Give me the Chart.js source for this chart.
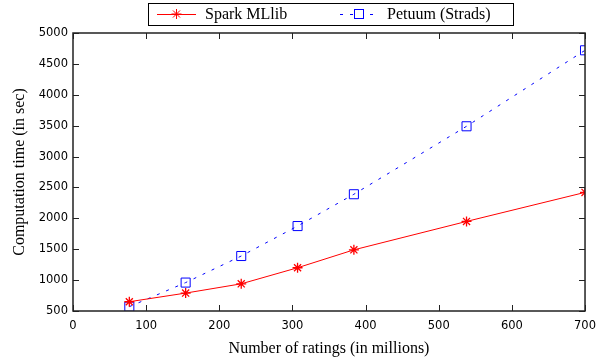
<!DOCTYPE html>
<html>
<head>
<meta charset="utf-8">
<script src="https://cdn.jsdelivr.net/npm/chart.js@4/dist/chart.umd.min.js"></script>
<style>
  html, body { margin: 0; padding: 0; background: #fff; }
  #wrap { width: 604px; height: 358px; }
</style>
</head>
<body>
<div id="wrap"><canvas id="chart" width="604" height="358"></canvas></div>
<script>
// values
const ratings = [77, 154, 230, 307, 384, 538, 700];       // millions of ratings
const sparkTime = [650, 790, 940, 1200, 1490, 1950, 2420]; // sec
const petuumTime = [570, 960, 1390, 1875, 2390, 3490, 4720];
const seriesNames = ['Spark MLlib', 'Petuum (Strads)'];

const serif = '"Liberation Serif", "Times New Roman", serif';
const sans = '"DejaVu Sans", Verdana, sans-serif';

function toPoints(ys) {
    return ratings.map((x, i) => ({ x: x, y: ys[i] }));
}

// draws the frame + inward ticks on all four sides
const frameTicks = {
    id: 'frameTicks',
    afterDatasetsDraw(chart) {
        const ctx = chart.ctx;
        const a = chart.chartArea;
        const xs = chart.scales.x, ys = chart.scales.y;
        const len = 6;
        ctx.save();
        ctx.strokeStyle = '#222';
        ctx.lineWidth = 1;
        ctx.beginPath();
        xs.ticks.forEach(t => {
            const px = Math.round(xs.getPixelForValue(t.value)) + 0.5;
            ctx.moveTo(px, a.bottom); ctx.lineTo(px, a.bottom - len);
            ctx.moveTo(px, a.top); ctx.lineTo(px, a.top + len);
        });
        ys.ticks.forEach(t => {
            const py = Math.round(ys.getPixelForValue(t.value)) + 0.5;
            ctx.moveTo(a.left, py); ctx.lineTo(a.left + len, py);
            ctx.moveTo(a.right, py); ctx.lineTo(a.right - len, py);
        });
        ctx.stroke();
        ctx.lineWidth = 1.5;
        ctx.strokeRect(a.left, a.top, a.right - a.left, a.bottom - a.top);
        ctx.restore();
    }
};

// gnuplot style boxed legend with line samples
const boxLegend = {
    id: 'boxLegend',
    afterDraw(chart) {
        const ctx = chart.ctx;
        const y = 14;
        const items = [
            { x0: 157, x1: 196, tx: 205 },
            { x0: 340, x1: 378, tx: 387 }
        ];
        ctx.save();
        ctx.strokeStyle = '#000';
        ctx.lineWidth = 1;
        ctx.strokeRect(148.5, 3.5, 365, 22);
        chart.data.datasets.forEach((ds, i) => {
            const it = items[i];
            const cx = (it.x0 + it.x1) / 2;
            ctx.strokeStyle = ds.borderColor;
            ctx.lineWidth = 1;
            ctx.setLineDash(ds.borderDash || []);
            ctx.beginPath();
            ctx.moveTo(it.x0, y + 0.5); ctx.lineTo(it.x1, y + 0.5);
            ctx.stroke();
            ctx.setLineDash([]);
            ctx.beginPath();
            if (ds.pointStyle === 'star') {
                const r = 5, d = r * Math.SQRT1_2;
                ctx.moveTo(cx - r, y); ctx.lineTo(cx + r, y);
                ctx.moveTo(cx, y - r); ctx.lineTo(cx, y + r);
                ctx.moveTo(cx - d, y - d); ctx.lineTo(cx + d, y + d);
                ctx.moveTo(cx - d, y + d); ctx.lineTo(cx + d, y - d);
                ctx.stroke();
            } else {
                ctx.fillStyle = '#fff';
                ctx.fillRect(cx - 4.5, y - 4.5, 9, 9);
                ctx.strokeRect(cx - 4.5, y - 4.5, 9, 9);
            }
            ctx.fillStyle = '#000';
            ctx.font = '16px ' + serif;
            ctx.textBaseline = 'middle';
            ctx.textAlign = 'left';
            ctx.fillText(ds.label, it.tx, y + 1);
        });
        ctx.restore();
    }
};

const ctx = document.getElementById('chart').getContext('2d');
const chart = new Chart(ctx, {
    type: 'line',
    data: {
        datasets: [{
            label: seriesNames[0],
            data: toPoints(sparkTime),
            borderColor: 'rgb(255, 0, 0)',
            backgroundColor: 'rgb(255, 0, 0)',
            borderWidth: 1,
            pointStyle: 'star',
            pointRadius: 5,
            pointBorderWidth: 1.3,
            tension: 0,
            fill: false
        }, {
            label: seriesNames[1],
            data: toPoints(petuumTime),
            borderColor: 'rgb(0, 0, 255)',
            backgroundColor: 'rgba(0, 0, 0, 0)',
            borderWidth: 1,
            borderDash: [3, 7],
            pointStyle: 'rect',
            pointRadius: 6.4,
            pointBorderWidth: 1,
            tension: 0,
            fill: false
        }]
    },
    options: {
        responsive: false,
        animation: false,
        layout: { padding: { top: 33, right: 16, left: 0, bottom: 0 } },
        plugins: {
            legend: { display: false },
            tooltip: { enabled: false }
        },
        scales: {
            x: {
                type: 'linear',
                min: 0,
                max: 700,
                ticks: { stepSize: 100, color: '#000', font: { family: sans, size: 11.5 }, padding: 8, maxRotation: 0,
                    callback: v => String(v) },
                grid: { display: false, tickLength: 0 },
                border: { display: false },
                title: { display: true, text: 'Number of ratings (in millions)', color: '#000', font: { family: serif, size: 16 }, padding: { top: 2, bottom: 0 } },
                afterFit(scale) { scale.height = 47; }
            },
            y: {
                min: 500,
                max: 5000,
                ticks: { stepSize: 500, color: '#000', font: { family: sans, size: 11.5 }, padding: 5,
                    callback: v => String(v) },
                grid: { display: false, tickLength: 0 },
                border: { display: false },
                title: { display: true, text: 'Computation time (in sec)', color: '#000', font: { family: serif, size: 16 }, padding: { top: 10, bottom: 4 } },
                afterFit(scale) { scale.width = 73; }
            }
        }
    },
    plugins: [frameTicks, boxLegend]
});
</script>
</body>
</html>
